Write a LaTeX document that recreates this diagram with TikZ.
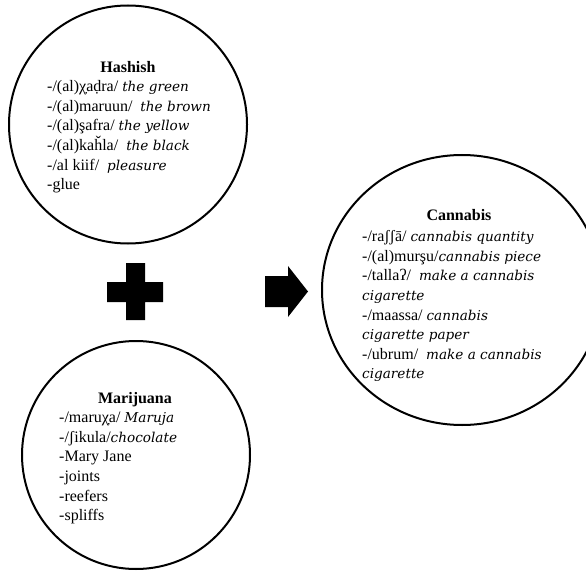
\documentclass[tikz,border=0pt]{standalone}
\usepackage{fontspec}
\usetikzlibrary{shapes.geometric}
\setmainfont{Liberation Serif}
\newfontfamily\glossfont{DejaVu Serif}
\newcommand{\gl}[1]{{\glossfont\itshape\fontsize{13.6}{19.6}\selectfont #1}}
\newcommand{\firststrut}{\rule{0pt}{15pt}}
\tikzset{
  ring/.style={circle, draw=black, line width=2pt, inner sep=0pt, fill=white},
  oval/.style={ellipse, draw=black, line width=2pt, inner sep=0pt, fill=white},
  ttl/.style={anchor=base, inner sep=0pt, font=\fontsize{16}{19.6}\selectfont\bfseries},
  body/.style={anchor=north west, inner sep=0pt, align=left, font=\fontsize{16}{19.6}\selectfont},
  symb/.style={fill=black, draw=none}
}
\begin{document}
\begin{tikzpicture}[x=1pt,y=-1pt]
\useasboundingbox (0,0) rectangle (586,572);
\begin{scope}
\clip (0,0) rectangle (586,572);
% circles
\node[ring, minimum size=238pt] (hash) at (128,124.5) {};
\node[ring, minimum size=228pt] (mari) at (136,455) {};
\node[oval, minimum width=280pt, minimum height=270pt] (cann) at (462,290) {};
\end{scope}
% Hashish
\node[ttl] (hashT) at (128,72.3) {Hashish};
\node[body] (hashB) at (47,76.5) {\firststrut-/(al)χ̣aḍra/ \gl{the green}\\
-/(al)maruun/\ \ \gl{the brown}\\
-/(al)şafra/ \gl{the yellow}\\
-/(al)kaȟla/\ \ \gl{the black}\\
-/al kiif/\ \ \gl{pleasure}\\
-glue};
% Marijuana
\node[ttl] (mariT) at (135,403.3) {Marijuana};
\node[body] (mariB) at (59,407.5) {\firststrut-/maruχ̣a/ \gl{Maruja}\\
-/ʃikula/\gl{chocolate}\\
-Mary Jane\\
-joints\\
-reefers\\
-spliffs};
% Cannabis
\node[ttl] (cannT) at (459,220.3) {Cannabis};
\node[body] (cannB) at (362,226.5) {\firststrut-/raʃʃā/ \gl{cannabis quantity}\\
-/(al)murşu/\gl{cannabis piece}\\
-/tallaʔ/\ \ \gl{make a cannabis}\\
\gl{cigarette}\\
-/maassa/ \gl{cannabis}\\
\gl{cigarette paper}\\
-/ubrum/\ \ \gl{make a cannabis}\\
\gl{cigarette}};
% plus sign
\path[symb] (126,263) -- (145,263) -- (145,282) -- (163,282) -- (163,302) -- (145,302)
  -- (145,320) -- (126,320) -- (126,302) -- (107,302) -- (107,282) -- (126,282) -- cycle;
% arrow
\path[symb] (265,276) -- (288,276) -- (288,266) -- (308,291.5) -- (288,317) -- (288,307)
  -- (265,307) -- cycle;
\end{tikzpicture}
\end{document}
